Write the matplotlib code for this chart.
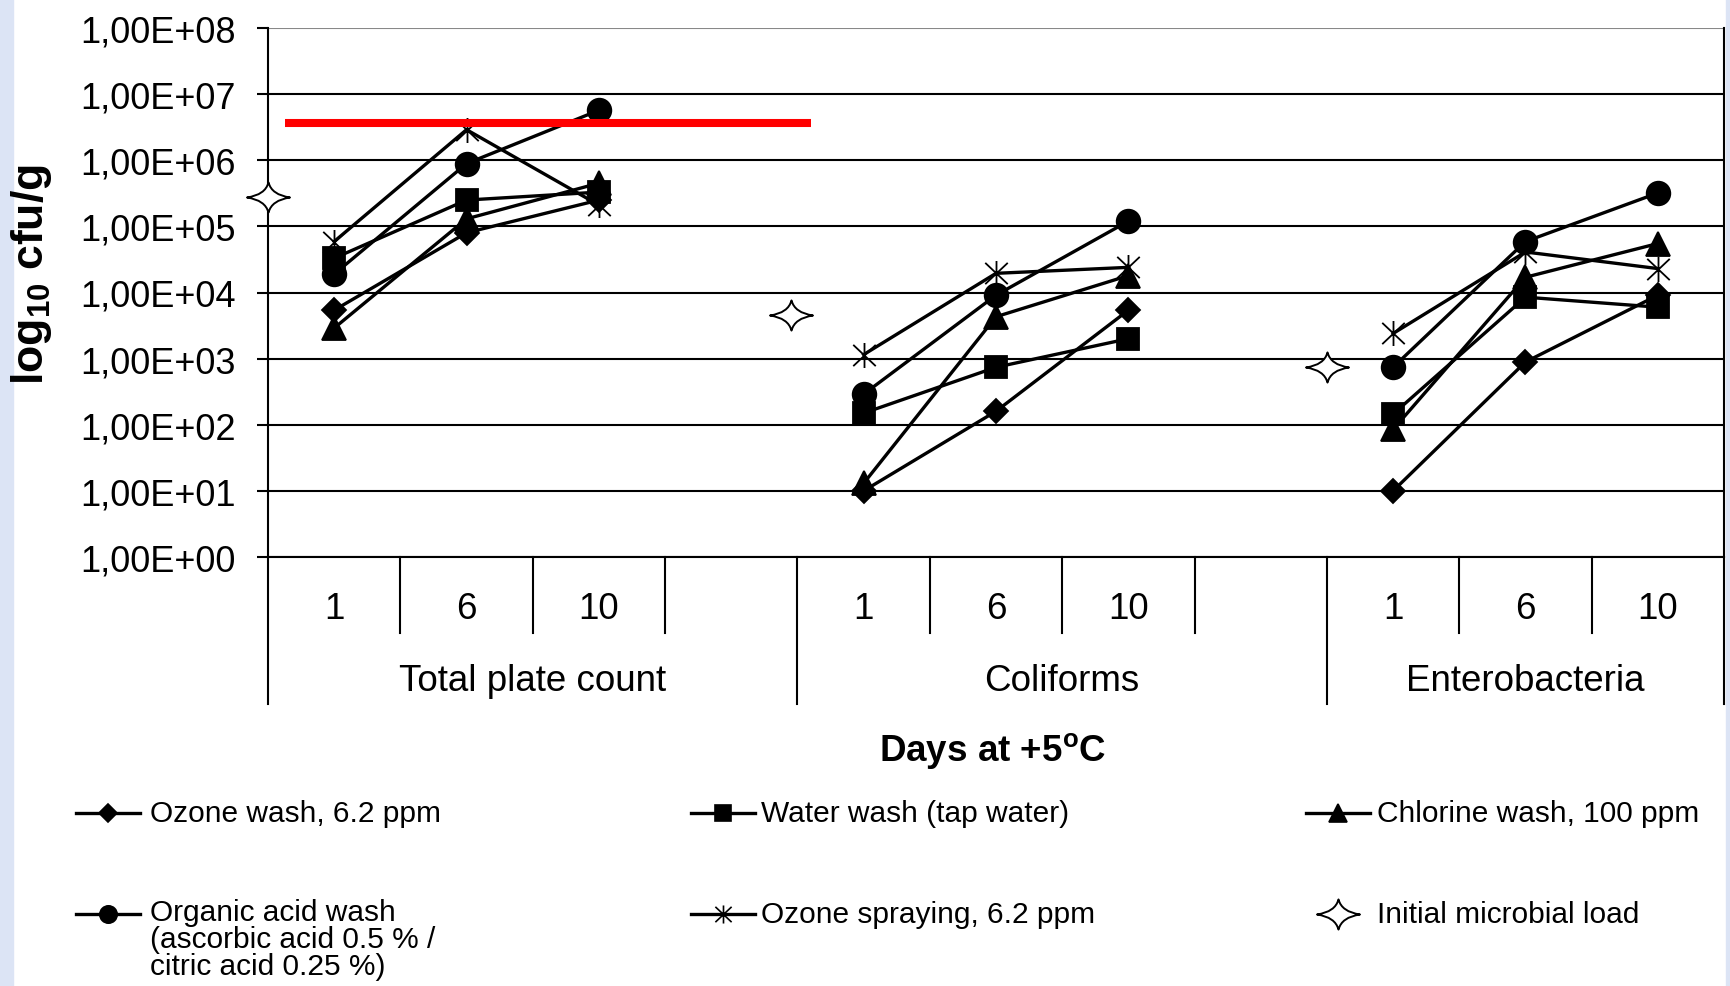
import numpy as np
import matplotlib
matplotlib.use('Agg')
import matplotlib.pyplot as plt
from matplotlib.path import Path
from matplotlib.lines import Line2D
from matplotlib.patches import Rectangle
from matplotlib.ticker import FixedLocator, FuncFormatter, NullLocator

plt.rcParams['font.family'] = ['Liberation Sans', 'DejaVu Sans']
plt.rcParams['mathtext.fontset'] = 'custom'
plt.rcParams['mathtext.rm'] = 'Liberation Sans'
plt.rcParams['mathtext.bf'] = 'Liberation Sans:bold'

days = ['1', '6', '10']
groups = ['Total plate count', 'Coliforms', 'Enterobacteria']

# cfu/g, order: TPC day 1,6,10 | Coliforms 1,6,10 | Enterobacteria 1,6,10
ozone_wash = [5.4e3, 8.0e4, 2.5e5, 1.0e1, 1.6e2, 5.4e3, 1.0e1, 8.9e2, 9.1e3]
water_wash = [3.3e4, 2.5e5, 3.3e5, 1.5e2, 7.4e2, 2.0e3, 1.45e2, 8.5e3, 6.0e3]
chlorine_wash = [2.9e3, 1.3e5, 4.5e5, 1.3e1, 4.3e3, 1.8e4, 8.5e1, 1.7e4, 5.5e4]
organic_acid_wash = [1.9e4, 8.9e5, 5.7e6, 2.9e2, 9.1e3, 1.2e5, 7.4e2, 5.9e4, 3.2e5]
ozone_spraying = [5.9e4, 2.9e6, 2.1e5, 1.15e3, 1.95e4, 2.4e4, 2.4e3, 4.1e4, 2.3e4]
initial_load = [2.8e5, 4.5e3, 7.4e2]
limit_value = 3.7e6

labels = ['Ozone wash, 6.2 ppm', 'Water wash (tap water)', 'Chlorine wash, 100 ppm',
          'Organic acid wash\n(ascorbic acid 0.5 % /\ncitric acid 0.25 %)',
          'Ozone spraying, 6.2 ppm', 'Initial microbial load']

group_start = [0, 4, 8]
group_edges = [-0.5, 3.5, 7.5, 10.5]
initial_x = [-0.5, 3.45, 7.5]
limit_x = [-0.37, 3.6]

W, H = 1730, 987

asterisk = Path([(0, -1), (0, 1), (-0.9, -0.85), (0.9, 0.85), (-0.9, 0.85), (0.9, -0.85)],
                [Path.MOVETO, Path.LINETO, Path.MOVETO, Path.LINETO, Path.MOVETO, Path.LINETO])
star = Path([(1, 0), (0.15, 0.12), (0, 0.7), (-0.15, 0.12), (-1, 0), (-0.15, -0.12), (0, -0.7),
             (0.15, -0.12), (1, 0), (1, 0)],
            [Path.MOVETO, Path.CURVE3, Path.CURVE3, Path.CURVE3, Path.CURVE3, Path.CURVE3,
             Path.CURVE3, Path.CURVE3, Path.CURVE3, Path.CLOSEPOLY])

series = [(ozone_wash, 'D', 12.5, 9),
          (water_wash, 's', 16, 11.5),
          (chlorine_wash, '^', 17, 12.5),
          (organic_acid_wash, 'o', 17, 12.5),
          (ozone_spraying, asterisk, 18, 13)]

fig = plt.figure(figsize=(W / 100, H / 100), dpi=100)
fig.add_artist(Rectangle((0, 0), 13 / W, 1, transform=fig.transFigure, color='#dce4f5', zorder=0))
fig.add_artist(Rectangle((1726 / W, 0), 4 / W, 1, transform=fig.transFigure, color='#dce4f5', zorder=0))

ax = fig.add_axes([268 / W, 1 - 558 / H, (1724 - 268) / W, (558 - 29) / H])

for vals, mk, ms, _ in series:
    for gi, g in enumerate(group_start):
        xs = [g + d for d in range(len(days))]
        ax.plot(xs, vals[gi * 3:gi * 3 + 3], color='black', lw=2.4, marker=mk, ms=ms,
                mfc='black', mec='black', mew=1.3, zorder=4)

ax.plot(initial_x, initial_load, ls='none', marker=star, ms=31, mfc='white', mec='black',
        mew=1.4, zorder=5, clip_on=False)
ax.hlines(limit_value, limit_x[0], limit_x[1], color='#ff0000', lw=5.8, zorder=6)

ax.set_yscale('log')
ax.set_ylim(1, 1e8)
ax.yaxis.set_major_locator(FixedLocator(10.0 ** np.arange(0, 9)))
ax.yaxis.set_minor_locator(NullLocator())
ax.yaxis.set_major_formatter(FuncFormatter(lambda v, p: f'{v:.2E}'.replace('.', ',')))
ax.tick_params(axis='y', direction='out', length=8, width=1.5, pad=15, labelsize=26)
ax.grid(axis='y', color='black', lw=1.5)
ax.set_axisbelow(True)
ax.yaxis.get_gridlines()[-1].set_color('#888888')

xpos = [g + d for g in group_start for d in range(len(days))]
ax.set_xlim(-0.5, 10.5)
ax.set_xticks(xpos)
ax.set_xticklabels(days * len(groups))
ax.tick_params(axis='x', length=0, pad=24.5, labelsize=26.5)

ax.spines['top'].set_visible(False)
for s in ['left', 'right', 'bottom']:
    ax.spines[s].set_linewidth(1.5)
    ax.spines[s].set_color('black')

trans = ax.get_xaxis_transform()
for x in xpos:
    if x + 0.5 not in group_edges:
        ax.plot([x + 0.5, x + 0.5], [0, -0.144], transform=trans, color='black', lw=1.5, clip_on=False)
for x in group_edges:
    ax.plot([x, x], [0, -0.278], transform=trans, color='black', lw=1.5, clip_on=False)
for i, name in enumerate(groups):
    ax.text((group_edges[i] + group_edges[i + 1]) / 2, -0.234, name, transform=trans,
            ha='center', va='center', fontsize=26.5)

fig.text(993 / W, 1 - 752 / H, 'Days at +5$^{\\mathbf{o}}$C', ha='center', va='center',
         fontsize=26.5, fontweight='bold')
fig.text(31 / W, 1 - 275 / H, 'log$_{\\mathbf{10}}$ cfu/g', rotation=90, ha='center', va='center',
         fontsize=32, fontweight='bold')

# legend, laid out by hand: 3 columns x 2 rows
col_handle = [108, 723, 1338]
col_text = [150, 761, 1377]
row_y = [814, 915]
legend_items = [(series[0], 0, 0), (series[1], 1, 0), (series[2], 2, 0),
                (series[3], 0, 1), (series[4], 1, 1)]
for i, (s, c, r) in enumerate(legend_items):
    y = 1 - row_y[r] / H
    fig.add_artist(Line2D([(col_handle[c] - 32) / W, (col_handle[c] + 32) / W], [y, y],
                          transform=fig.transFigure, color='black', lw=2.4))
    fig.add_artist(Line2D([col_handle[c] / W], [y], transform=fig.transFigure, ls='none',
                          marker=s[1], ms=s[3], mfc='black', mec='black', mew=1.2))
    if '\n' in labels[i]:
        fig.text(col_text[c] / W, y + 16 / H, labels[i], ha='left', va='top', fontsize=21.5,
                 linespacing=0.95)
    else:
        fig.text(col_text[c] / W, y, labels[i], ha='left', va='center', fontsize=21.5)

y = 1 - row_y[1] / H
fig.add_artist(Line2D([col_handle[2] / W], [y], transform=fig.transFigure, ls='none',
                      marker=star, ms=31, mfc='white', mec='black', mew=1.4))
fig.text(col_text[2] / W, y, labels[5], ha='left', va='center', fontsize=21.5)

fig.savefig('out.png', dpi=100)
